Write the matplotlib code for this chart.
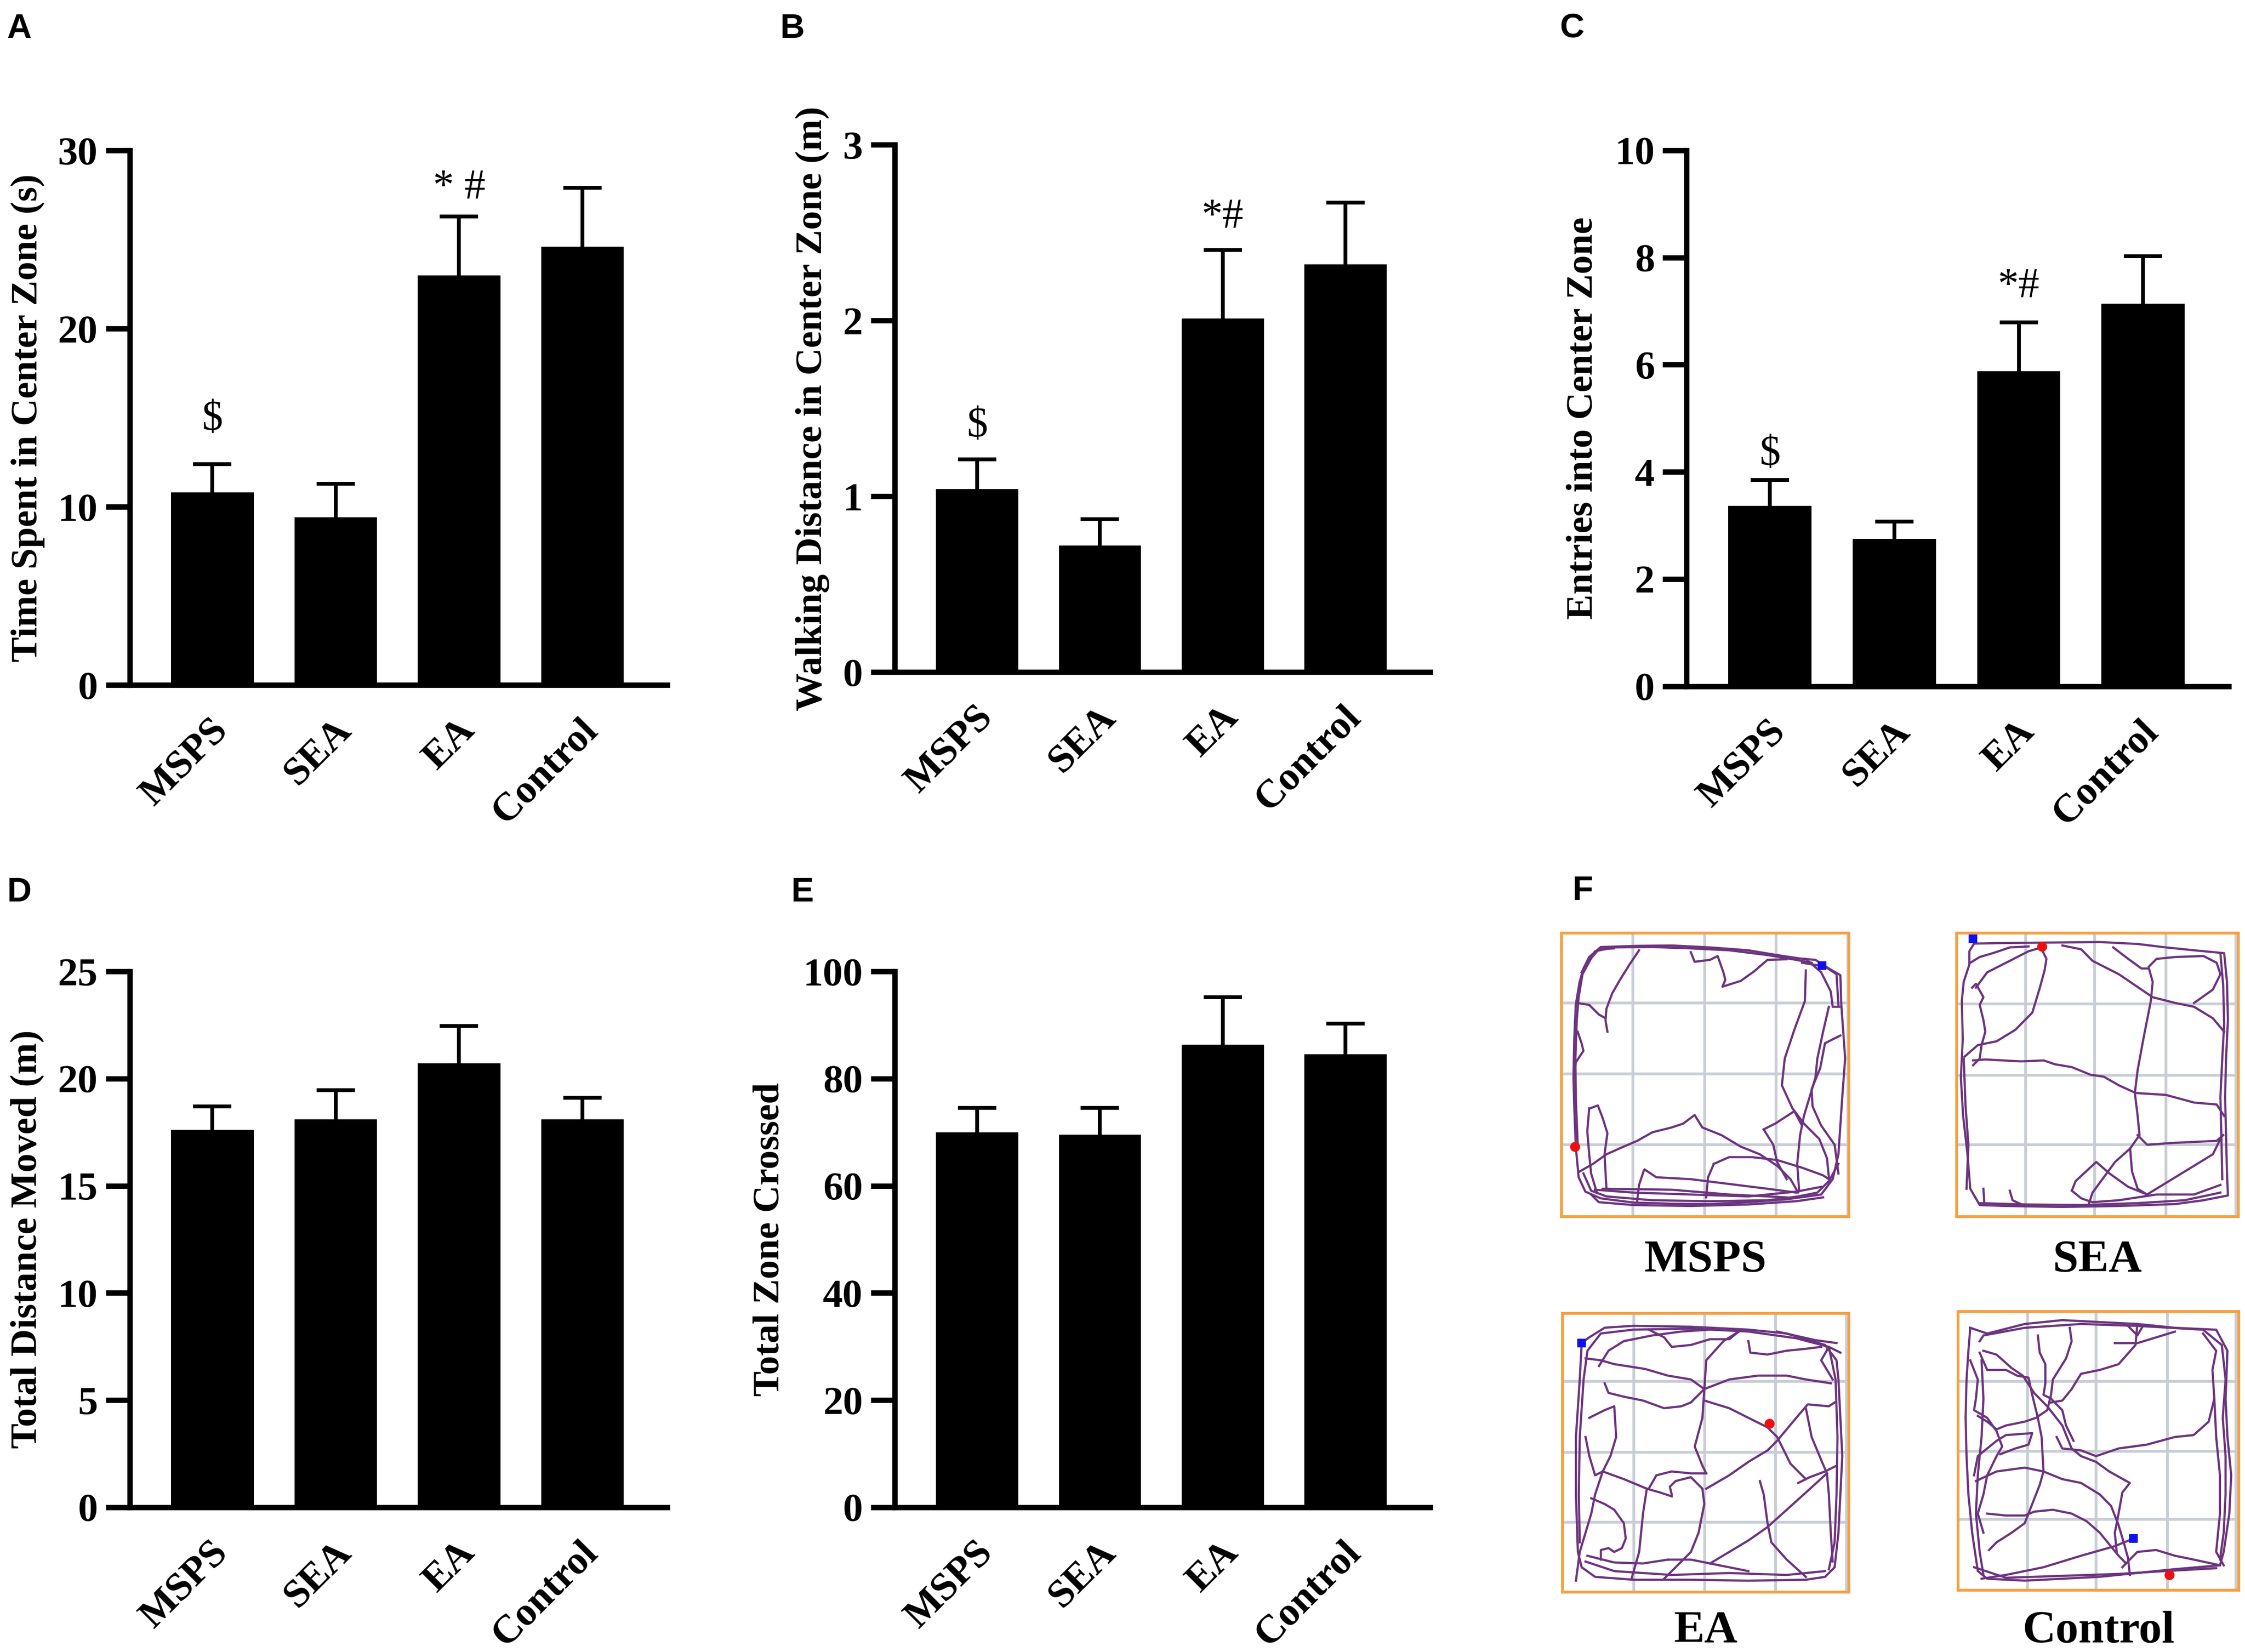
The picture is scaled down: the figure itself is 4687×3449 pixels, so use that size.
import numpy as np
import matplotlib
matplotlib.use("Agg")
import matplotlib.pyplot as plt
from matplotlib.transforms import ScaledTranslation

plt.rcParams['font.family'] = ['Liberation Serif', 'DejaVu Serif']

groups = ['MSPS', 'SEA', 'EA', 'Control']

# bar means and top of the error bar (mean + SEM)
time_center = [10.8, 9.4, 23.0, 24.6]
time_center_err = [12.4, 11.3, 26.3, 27.9]
dist_center = [1.04, 0.72, 2.01, 2.32]
dist_center_err = [1.21, 0.87, 2.40, 2.67]
entries_center = [3.37, 2.75, 5.88, 7.14]
entries_center_err = [3.85, 3.07, 6.79, 8.02]
total_dist = [17.6, 18.1, 20.7, 18.1]
total_dist_err = [18.7, 19.45, 22.45, 19.1]
total_zone = [70.0, 69.5, 86.3, 84.5]
total_zone_err = [74.5, 74.5, 95.2, 90.3]

# significance marks: (group index, y, text)
marks_a = [(0, 14.9, '$'), (2, 27.9, '* #')]
marks_b = [(0, 1.40, '$'), (2, 2.59, '*#')]
marks_c = [(0, 4.33, '$'), (2, 7.46, '*#')]

# open-field tracks (pixel coords of the raster)
msps_box = (25, 1525, 45, 1525)
msps_gx = [398, 772, 1145, 1520]
msps_gy = [410, 780, 1150]
msps_blue = (1385, 215)
msps_red = (95, 1160)
msps_tracks = [
    [(100, 1160), (92, 950), (88, 800), (92, 600), (100, 420), (120, 300), (140, 230), (170, 170), (230, 118),
     (420, 112), (600, 110), (800, 120), (1000, 135), (1150, 160), (1270, 178), (1350, 185), (1420, 230),
     (1480, 265), (1485, 420), (1495, 560), (1505, 700), (1490, 900), (1480, 1050), (1470, 1200), (1440, 1330),
     (1380, 1410), (1200, 1435), (1000, 1450), (800, 1460), (600, 1458), (400, 1452), (230, 1430), (150, 1395),
     (115, 1320), (100, 1160)],
    [(110, 1150), (100, 900), (98, 700), (105, 500), (115, 380), (135, 260), (200, 140), (300, 120), (500, 118),
     (700, 125), (900, 135), (1100, 160), (1250, 185), (1330, 200)],
    [(140, 1300), (180, 1390), (260, 1420), (500, 1440), (800, 1445), (1100, 1440), (1260, 1420), (1360, 1400),
     (1420, 1340), (1470, 1250)],
    [(200, 1385), (400, 1400), (700, 1410), (1000, 1420), (1250, 1395), (1380, 1370)],
    [(180, 1410), (220, 1450), (400, 1465), (700, 1470), (1000, 1462), (1250, 1445), (1390, 1425)],
    [(130, 250), (160, 200), (220, 130), (300, 125)],
    [(1280, 200), (1400, 220), (1460, 260), (1470, 420)],
    [(1300, 180), (1380, 250), (1430, 350), (1440, 430), (1475, 430)],
    [(430, 135), (380, 210), (330, 290), (290, 360), (260, 440), (255, 500), (265, 560)],
    [(105, 410), (170, 420), (220, 470), (255, 490)],
    [(700, 145), (720, 195), (800, 185), (840, 165), (870, 250), (880, 290), (865, 325), (960, 295), (1030, 245),
     (1100, 185), (1200, 182)],
    [(1300, 240), (1295, 400), (1240, 550), (1190, 700), (1175, 840), (1230, 960), (1290, 1040), (1370, 1120),
     (1410, 1220), (1420, 1320)],
    [(1420, 430), (1390, 560), (1360, 700), (1350, 800), (1320, 900), (1290, 1000), (1270, 1100), (1255, 1250),
     (1265, 1390)],
    [(1480, 580), (1400, 620), (1375, 750), (1330, 860), (1335, 950), (1380, 1050), (1450, 1150), (1470, 1300)],
    [(120, 1290), (190, 1250), (260, 1200), (350, 1160), (420, 1130), (500, 1085), (600, 1060), (660, 1040),
     (720, 995), (760, 1060), (860, 1100), (960, 1160), (1060, 1200), (1150, 1260), (1220, 1330), (1260, 1400)],
    [(1080, 1070), (1140, 1040), (1240, 975), (1280, 1050)],
    [(1080, 1070), (1130, 1150), (1150, 1240), (1200, 1330)],
    [(820, 1250), (900, 1215), (1020, 1215), (1150, 1230), (1280, 1270), (1390, 1310), (1420, 1330)],
    [(460, 1280), (520, 1320), (700, 1330), (900, 1355), (1100, 1380), (1250, 1400)],
    [(420, 1445), (430, 1360), (455, 1285)],
    [(780, 1425), (790, 1320), (820, 1250)],
    [(175, 960), (215, 945), (240, 1010), (265, 1090), (250, 1200), (260, 1380)],
    [(170, 960), (160, 1080), (170, 1200), (180, 1300), (210, 1400)],
    [(240, 1380), (600, 1385), (900, 1410), (1200, 1425)],
    [(90, 800), (100, 720), (140, 660), (130, 620), (110, 560)],
]

sea_box = (38, 1535, 45, 1525)
sea_gx = [405, 772, 1150, 1522]
sea_gy = [415, 787, 1150]
sea_blue = (125, 75)
sea_red = (490, 115)
sea_tracks = [
    [(130, 100), (300, 97), (500, 95), (800, 92), (1000, 102), (1150, 120), (1300, 135), (1460, 150), (1475, 300),
     (1480, 500), (1470, 700), (1465, 900), (1470, 1100), (1475, 1300), (1480, 1415), (1350, 1440), (1200, 1460),
     (900, 1470), (600, 1475), (300, 1470), (160, 1465), (110, 1380), (95, 1200), (72, 1000), (60, 800), (70, 600),
     (65, 400), (75, 300), (105, 210), (105, 140), (130, 100)],
    [(160, 1455), (400, 1462), (700, 1465), (1000, 1455), (1250, 1440), (1440, 1400)],
    [(90, 1380), (100, 1150), (85, 950), (75, 700)],
    [(1440, 150), (1455, 320), (1460, 520), (1450, 700), (1440, 900), (1445, 1100), (1450, 1330)],
    [(120, 330), (140, 310), (180, 380), (160, 420), (180, 500), (190, 560), (170, 630), (160, 700), (125, 735)],
    [(125, 710), (190, 705), (380, 715), (500, 710), (560, 730), (650, 745), (750, 785), (820, 795), (900, 840),
     (990, 880), (1150, 890), (1300, 930), (1420, 940), (1460, 1000)],
    [(80, 690), (150, 630), (250, 610), (350, 550), (440, 460), (480, 330), (505, 240), (515, 180), (490, 130)],
    [(140, 330), (200, 250), (300, 200), (420, 140), (490, 120)],
    [(110, 200), (160, 170), (230, 150), (320, 120), (420, 115)],
    [(600, 110), (700, 130), (760, 190), (900, 260), (1080, 380), (1200, 410), (1300, 430), (1400, 490),
     (1460, 560)],
    [(870, 120), (950, 180), (1020, 230), (1060, 230), (1080, 300), (1070, 400), (1030, 600), (1000, 760),
     (985, 880), (1000, 1000), (1010, 1100), (960, 1170), (880, 1240), (820, 1320), (760, 1400), (740, 1460)],
    [(1060, 220), (1100, 180), (1200, 170), (1350, 165), (1420, 200), (1440, 260), (1400, 340), (1300, 410)],
    [(1000, 1100), (1050, 1150), (1200, 1140), (1420, 1130), (1455, 1100)],
    [(960, 1170), (970, 1290), (1000, 1380), (1050, 1410), (1100, 1380), (1200, 1320), (1400, 1200),
     (1445, 1110)],
    [(650, 1390), (670, 1340), (780, 1240), (850, 1300), (950, 1370), (1050, 1410)],
    [(650, 1390), (700, 1430), (760, 1450), (900, 1440), (1100, 1410), (1300, 1410), (1440, 1360)],
    [(180, 1380), (185, 1465)],
    [(320, 1390), (335, 1440), (400, 1470)],
]

ea_box = (30, 1525, 55, 1510)
ea_gx = [403, 773, 1143, 1512]
ea_gy = [410, 780, 1145]
ea_blue = (130, 210)
ea_red = (1110, 630)
ea_tracks = [
    [(130, 210), (120, 400), (100, 700), (100, 1000), (110, 1300), (130, 1380), (200, 1430), (400, 1445),
     (700, 1445), (1000, 1450), (1300, 1445), (1400, 1430), (1450, 1380), (1470, 1200), (1480, 1000), (1490, 800),
     (1480, 600), (1470, 400), (1460, 300), (1400, 220), (1200, 160), (1000, 140), (700, 125), (400, 120),
     (250, 130), (170, 180), (130, 210)],
    [(150, 1350), (300, 1400), (600, 1420), (900, 1410), (1200, 1420), (1400, 1400)],
    [(120, 1250), (115, 1000), (120, 700), (140, 400), (160, 250), (230, 160), (400, 140), (700, 135),
     (1000, 150), (1250, 185), (1420, 230), (1455, 400), (1465, 700), (1460, 1000), (1450, 1250), (1420, 1390)],
    [(1460, 210), (1350, 195), (1150, 150)],
    [(1480, 260), (1420, 230), (1380, 300), (1440, 400)],
    [(150, 290), (230, 300), (300, 320), (460, 345), (580, 380), (700, 400), (770, 450)],
    [(250, 420), (270, 470), (350, 490), (450, 510), (560, 550), (650, 540), (700, 520), (770, 450), (900, 400),
     (1050, 380), (1200, 380), (1300, 400), (1430, 420)],
    [(220, 330), (270, 250), (350, 200), (500, 170), (650, 150), (800, 140)],
    [(480, 140), (560, 180), (600, 230), (700, 220), (800, 190), (900, 190), (950, 150)],
    [(1000, 200), (1010, 260), (1100, 270), (1200, 250), (1300, 240), (1380, 230)],
    [(950, 150), (870, 200), (780, 300), (770, 450), (760, 600), (720, 750), (760, 850), (780, 890)],
    [(770, 510), (900, 550), (1000, 600), (1100, 650), (1150, 700), (1180, 760), (1220, 840), (1300, 920)],
    [(1260, 940), (1320, 910), (1400, 880), (1460, 850)],
    [(780, 970), (900, 900), (1000, 830), (1100, 770), (1150, 720), (1250, 600), (1310, 530), (1420, 540),
     (1450, 520)],
    [(1060, 930), (1080, 1000), (1100, 1150), (1120, 1250), (1200, 1340), (1300, 1430)],
    [(800, 1360), (900, 1300), (1000, 1240), (1100, 1170), (1200, 1080), (1300, 990), (1410, 890)],
    [(1300, 550), (1330, 700), (1380, 820), (1410, 890), (1420, 1000), (1430, 1200), (1440, 1350)],
    [(170, 600), (250, 560), (300, 540), (310, 700), (280, 800), (240, 880), (200, 900), (170, 800), (150, 700)],
    [(240, 880), (350, 920), (470, 970), (540, 990), (600, 1010)],
    [(480, 970), (520, 900), (600, 880), (700, 890), (780, 890)],
    [(600, 1000), (590, 960), (620, 930), (700, 910), (760, 970), (770, 1050), (740, 1200), (700, 1300),
     (600, 1400), (560, 1440)],
    [(470, 970), (450, 1100), (440, 1200), (430, 1300), (390, 1440)],
    [(240, 880), (200, 1000), (180, 1100), (150, 1200), (120, 1300), (100, 1450)],
    [(180, 1020), (250, 1050), (300, 1080), (350, 1150), (360, 1230), (340, 1280), (300, 1300), (270, 1280),
     (230, 1290), (230, 1340)],
    [(580, 1340), (700, 1340), (800, 1360), (1000, 1400)],
    [(160, 1320), (300, 1355), (450, 1360), (580, 1340)],
]

control_box = (45, 1540, 45, 1500)
control_gx = [415, 780, 1160, 1525]
control_gy = [410, 775, 1130]
control_blue = (980, 1230)
control_red = (1170, 1420)
control_tracks = [
    [(110, 130), (200, 160), (400, 110), (600, 90), (800, 100), (1000, 110), (1200, 130), (1420, 140), (1480, 250),
     (1470, 500), (1480, 700), (1500, 900), (1490, 1100), (1460, 1300), (1440, 1370), (1200, 1390), (1000, 1410),
     (800, 1430), (600, 1440), (400, 1450), (200, 1440), (150, 1400), (120, 1200), (100, 1000), (90, 800),
     (85, 600), (90, 400), (100, 250), (110, 130)],
    [(160, 200), (180, 170), (400, 130), (700, 110), (1000, 120), (1350, 140), (1450, 220), (1470, 400),
     (1455, 600), (1470, 800), (1470, 1000), (1460, 1200), (1440, 1340)],
    [(180, 250), (250, 270), (330, 340), (390, 380), (450, 470), (520, 540), (600, 640), (650, 760), (700, 800),
     (780, 830), (850, 880), (960, 940), (920, 990), (900, 1100), (880, 1200), (890, 1300)],
    [(160, 260), (200, 350), (300, 350), (360, 380), (420, 390), (440, 480), (470, 600), (490, 700), (500, 880),
     (480, 950), (440, 1050), (400, 1150), (330, 1200), (250, 1250), (210, 1290)],
    [(470, 170), (480, 260), (510, 320), (510, 420), (500, 480), (540, 500), (600, 560), (620, 640), (660, 720)],
    [(640, 130), (650, 200), (620, 290), (550, 400), (540, 480), (520, 560), (460, 600), (400, 620), (300, 640),
     (250, 660), (200, 620), (150, 590)],
    [(1000, 110), (990, 220), (900, 320), (800, 350), (700, 370), (650, 450), (600, 510), (540, 520)],
    [(570, 700), (600, 760), (700, 770), (780, 800), (900, 760), (1050, 740), (1200, 700), (1300, 690),
     (1380, 620), (1410, 500), (1400, 350), (1420, 250), (1350, 160)],
    [(140, 930), (250, 880), (400, 860), (500, 880), (600, 920), (700, 940), (800, 1000), (860, 1060), (900, 1160),
     (930, 1260), (950, 1330), (960, 1420)],
    [(200, 1100), (300, 1110), (400, 1110), (450, 1090), (550, 1080), (650, 1100), (730, 1140), (800, 1200),
     (850, 1260), (900, 1320), (940, 1360)],
    [(980, 1230), (880, 1270), (700, 1320), (500, 1380), (300, 1420), (170, 1440)],
    [(920, 1380), (1000, 1300), (1100, 1290), (1200, 1320), (1300, 1340), (1440, 1370)],
    [(110, 300), (150, 400), (140, 500), (130, 560), (200, 600), (250, 670), (280, 750), (250, 800), (200, 900),
     (180, 1000), (150, 1100), (180, 1200)],
    [(270, 790), (350, 760), (420, 740), (440, 680), (300, 690), (250, 720), (200, 760), (150, 800), (130, 900)],
    [(170, 300), (180, 500), (170, 700), (150, 900), (140, 1100), (160, 1300), (180, 1420)],
    [(880, 210), (1000, 210), (1100, 180), (1200, 150)],
    [(950, 120), (1000, 170), (1030, 120)],
    [(1410, 500), (1420, 700), (1440, 900), (1440, 1100), (1420, 1300), (1460, 1370)],
    [(130, 1380), (300, 1435), (600, 1425), (900, 1415), (1150, 1400), (1420, 1385)],
]

fig = plt.figure(figsize=(4687 / 300, 3449 / 300), dpi=300)

x = np.arange(len(groups))


def bar_panel(rect, vals, tops, ylim, yticks, ylabel, label_x, marks=None):
    ax = fig.add_axes(rect)
    ax.bar(x, vals, width=0.67, color='black')
    err = np.array(tops) - np.array(vals)
    _, caps, _ = ax.errorbar(x, vals, yerr=[np.zeros(len(vals)), err], fmt='none', ecolor='black',
                             elinewidth=1.9, capsize=9.5, capthick=1.9)
    # only the upper cap is drawn in the original
    for c in caps:
        if np.allclose(c.get_ydata(), vals):
            c.set_visible(False)
    ax.set_xlim(-0.67, 3.69)
    ax.set_ylim(*ylim)
    ax.set_yticks(yticks)
    ax.spines['top'].set_visible(False)
    ax.spines['right'].set_visible(False)
    ax.spines['left'].set_linewidth(2.7)
    ax.spines['bottom'].set_linewidth(2.7)
    ax.spines['bottom'].set_capstyle('projecting')
    ax.tick_params(axis='y', length=12, width=2.7, pad=4, labelsize=20)
    ax.tick_params(axis='x', length=0, pad=20, labelsize=20)
    ax.set_xticks(x)
    ax.set_xticklabels(groups, rotation=45, ha='right', va='center', rotation_mode='anchor',
                       fontweight='bold')
    shift = ScaledTranslation(5 / 72, 0, fig.dpi_scale_trans)
    for t in ax.get_xticklabels():
        t.set_transform(t.get_transform() + shift)
    for t in ax.get_yticklabels():
        t.set_fontweight('bold')
    ax.set_ylabel(ylabel, fontsize=19, fontweight='bold')
    ax.yaxis.set_label_coords(label_x, 0.5)
    if marks:
        for i, yy, s in marks:
            ax.text(i, yy, s, ha='center', va='center', fontsize=21)
    return ax


bar_panel([0.0578, 0.5854, 0.2395, 0.3235], time_center, time_center_err, (0, 30), [0, 10, 20, 30],
          'Time Spent in Center Zone (s)', -0.158, marks_a)
bar_panel([0.3986, 0.5932, 0.2385, 0.3192], dist_center, dist_center_err, (0, 3), [0, 1, 2, 3],
          'Walking Distance in Center Zone (m)', -0.122, marks_b)
bar_panel([0.7513, 0.5846, 0.2415, 0.3244], entries_center, entries_center_err, (0, 10), [0, 2, 4, 6, 8, 10],
          'Entries into Center Zone', -0.16, marks_c)
bar_panel([0.0578, 0.0876, 0.2395, 0.3244], total_dist, total_dist_err, (0, 25), [0, 5, 10, 15, 20, 25],
          'Total Distance Moved (m)', -0.158)
bar_panel([0.3986, 0.0876, 0.2385, 0.3244], total_zone, total_zone_err, (0, 100), [0, 20, 40, 60, 80, 100],
          'Total Zone Crossed', -0.202)


def track_panel(rect, box, gx, gy, tracks, blue, red, name, name_y):
    ax = fig.add_axes(rect)
    x0, x1, y0, y1 = box
    ax.set_xlim(x0, x1)
    ax.set_ylim(y1, y0)
    for g in gx:
        ax.axvline(g, color='#c9ced6', lw=1.4, zorder=1)
    for g in gy:
        ax.axhline(g, color='#c9ced6', lw=1.4, zorder=1)
    for seg in tracks:
        seg = np.array(seg)
        ax.plot(seg[:, 0], seg[:, 1], color='#6c347f', lw=1.1, zorder=2)
    ax.plot(*blue, marker='s', color='#1010ee', ms=3.5, zorder=3)
    ax.plot(*red, marker='o', color='#ee1010', ms=4, zorder=3)
    ax.set_xticks([])
    ax.set_yticks([])
    for sp in ax.spines.values():
        sp.set_color('#f5a043')
        sp.set_linewidth(1.4)
    fig.text(rect[0] + rect[2] / 2, name_y, name, ha='center', va='center', fontsize=23, fontweight='bold')


track_panel([0.6955, 0.2636, 0.1281, 0.1716], msps_box, msps_gx, msps_gy, msps_tracks,
            msps_blue, msps_red, 'MSPS', 0.2368)
track_panel([0.8716, 0.2636, 0.1254, 0.1716], sea_box, sea_gx, sea_gy, sea_tracks,
            sea_blue, sea_red, 'SEA', 0.2368)
track_panel([0.6960, 0.0362, 0.1276, 0.1688], ea_box, ea_gx, ea_gy, ea_tracks,
            ea_blue, ea_red, 'EA', 0.0125)
track_panel([0.8722, 0.0374, 0.1250, 0.1687], control_box, control_gx, control_gy, control_tracks,
            control_blue, control_red, 'Control', 0.0125)

# panel letters
for lx, ly, s in [(0.003, 0.992, 'A'), (0.3473, 0.992, 'B'), (0.6947, 0.992, 'C'),
                  (0.003, 0.469, 'D'), (0.3524, 0.469, 'E'), (0.7003, 0.470, 'F')]:
    fig.text(lx, ly, s, ha='left', va='top', fontsize=17, fontweight='bold', family='Liberation Sans')

fig.savefig('out.png', dpi=300)
